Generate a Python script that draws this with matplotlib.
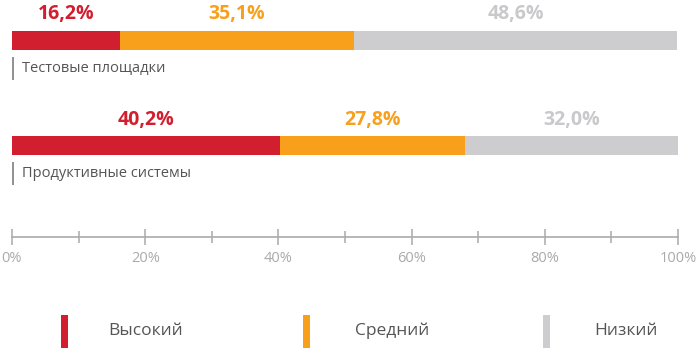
import matplotlib.pyplot as plt
import numpy as np

# данные
rows = ['Тестовые площадки', 'Продуктивные системы']
levels = ['Высокий', 'Средний', 'Низкий']
values = {
    'Высокий': [16.2, 40.2],
    'Средний': [35.1, 27.8],
    'Низкий': [48.6, 32.0],
}
colors = ['#d21f30', '#f8a01c', '#cdcccf']
label_colors = ['#d21f30', '#f8a01c', '#c9c8cb']
ticks = [0, 20, 40, 60, 80, 100]

plt.rcParams['font.family'] = ['Open Sans', 'DejaVu Sans']

fig = plt.figure(figsize=(7, 3.51), dpi=100)
# ось x: 0% -> 12px, 100% -> 678px; ось y в пикселях сверху вниз
ax = fig.add_axes([12 / 700, 0, 666 / 700, 1])
ax.set_xlim(0, 100)
ax.set_ylim(351, 0)

bar_y = [40.5, 145.5]
bar_h = 19
left = np.zeros(len(rows))
for i, lev in enumerate(levels):
    v = np.array(values[lev])
    ax.barh(bar_y, v, left=left, height=bar_h, color=colors[i], linewidth=0)
    for j in range(len(rows)):
        ax.text(left[j] + v[j] / 2, bar_y[j] - 26, f'{v[j]:.1f}%'.replace('.', ','),
                ha='center', va='center', fontsize=14, fontweight='bold',
                color=label_colors[i])
    left += v

for j, name in enumerate(rows):
    yc = bar_y[j] + 28
    ax.plot([0.15, 0.15], [yc - 12, yc + 11], color='#888888', lw=1.3,
            solid_capstyle='butt')
    ax.text(1.5, yc, name, ha='left', va='center', fontsize=10.5, color='#555555')

# ось с делениями
for s in ['top', 'right', 'left']:
    ax.spines[s].set_visible(False)
ax.spines['bottom'].set_position(('data', 237))
ax.spines['bottom'].set_color('#aaaaaa')
ax.spines['bottom'].set_linewidth(1.2)
ax.set_xticks(ticks)
ax.set_xticklabels([f'{t}%' for t in ticks])
ax.set_xticks(np.arange(10, 100, 20), minor=True)
ax.tick_params(axis='x', which='major', direction='inout', length=12, width=1.1,
               color='#aaaaaa', labelcolor='#aaaaaa', labelsize=10.5, pad=4)
ax.tick_params(axis='x', which='minor', direction='inout', length=9, width=1.1,
               color='#aaaaaa')
ax.set_yticks([])

# легенда
leg_x = [7.3, 43.7, 79.7]
txt_x = [14.4, 51.5, 87.5]
for i, lev in enumerate(levels):
    ax.add_patch(plt.Rectangle((leg_x[i], 315), 1.1, 33, color=colors[i],
                               clip_on=False, lw=0))
    ax.text(txt_x[i], 331, lev, ha='left', va='center', fontsize=12.5,
            color='#555555')

fig.savefig('out.png', dpi=100)
